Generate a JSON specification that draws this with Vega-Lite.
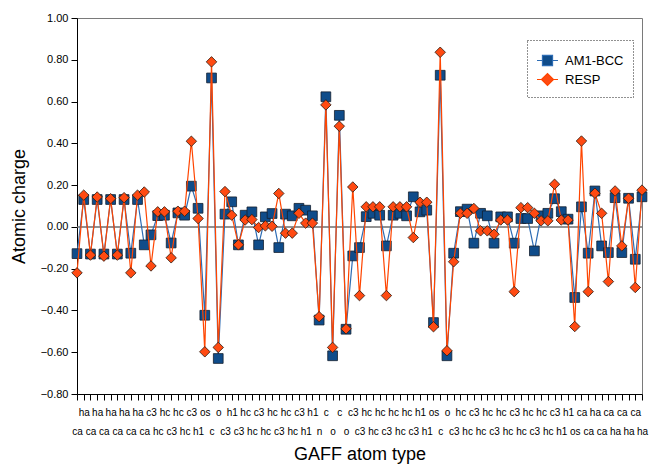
{
  "$schema": "https://vega.github.io/schema/vega-lite/v6.json",
  "width": 565,
  "height": 376,
  "autosize": "none",
  "padding": {"left": 77, "top": 18, "right": 8, "bottom": 71},
  "background": "white",
  "config": {
    "font": "Liberation Sans",
    "view": {"stroke": "#7a7a7a", "strokeWidth": 1},
    "legend": {"strokeDash": [1, 2], "strokeColor": "#222"}
  },
  "data": {
    "values": [
      {"site": "ca 1", "AM1-BCC": -0.128, "RESP": -0.220},
      {"site": "ha 2", "AM1-BCC": 0.131, "RESP": 0.152},
      {"site": "ca 3", "AM1-BCC": -0.130, "RESP": -0.135},
      {"site": "ha 4", "AM1-BCC": 0.131, "RESP": 0.143},
      {"site": "ca 5", "AM1-BCC": -0.130, "RESP": -0.140},
      {"site": "ha 6", "AM1-BCC": 0.131, "RESP": 0.135},
      {"site": "ca 7", "AM1-BCC": -0.130, "RESP": -0.135},
      {"site": "ha 8", "AM1-BCC": 0.131, "RESP": 0.140},
      {"site": "ca 9", "AM1-BCC": -0.126, "RESP": -0.220},
      {"site": "ha 10", "AM1-BCC": 0.131, "RESP": 0.152},
      {"site": "ca 11", "AM1-BCC": -0.086, "RESP": 0.167},
      {"site": "c3 12", "AM1-BCC": -0.038, "RESP": -0.187},
      {"site": "hc 13", "AM1-BCC": 0.054, "RESP": 0.072},
      {"site": "hc 14", "AM1-BCC": 0.056, "RESP": 0.072},
      {"site": "c3 15", "AM1-BCC": -0.077, "RESP": -0.148},
      {"site": "hc 16", "AM1-BCC": 0.067, "RESP": 0.075},
      {"site": "hc 17", "AM1-BCC": 0.056, "RESP": 0.075},
      {"site": "c3 18", "AM1-BCC": 0.195, "RESP": 0.410},
      {"site": "h1 19", "AM1-BCC": 0.089, "RESP": 0.040},
      {"site": "os 20", "AM1-BCC": -0.423, "RESP": -0.598},
      {"site": "c 21", "AM1-BCC": 0.713, "RESP": 0.790},
      {"site": "o 22", "AM1-BCC": -0.630, "RESP": -0.577},
      {"site": "c3 23", "AM1-BCC": 0.061, "RESP": 0.169},
      {"site": "h1 24", "AM1-BCC": 0.120, "RESP": 0.056},
      {"site": "c3 25", "AM1-BCC": -0.086, "RESP": -0.086},
      {"site": "hc 26", "AM1-BCC": 0.056, "RESP": 0.033},
      {"site": "hc 27", "AM1-BCC": 0.072, "RESP": 0.035},
      {"site": "c3 28", "AM1-BCC": -0.086, "RESP": -0.003},
      {"site": "hc 29", "AM1-BCC": 0.048, "RESP": 0.005},
      {"site": "hc 30", "AM1-BCC": 0.064, "RESP": 0.003},
      {"site": "c3 31", "AM1-BCC": -0.099, "RESP": 0.160},
      {"site": "hc 32", "AM1-BCC": 0.061, "RESP": -0.030},
      {"site": "hc 33", "AM1-BCC": 0.053, "RESP": -0.030},
      {"site": "c3 34", "AM1-BCC": 0.089, "RESP": 0.065},
      {"site": "h1 35", "AM1-BCC": 0.080, "RESP": 0.018},
      {"site": "h1 36", "AM1-BCC": 0.053, "RESP": 0.018},
      {"site": "n 37", "AM1-BCC": -0.446, "RESP": -0.430},
      {"site": "c 38", "AM1-BCC": 0.623, "RESP": 0.584},
      {"site": "o 39", "AM1-BCC": -0.617, "RESP": -0.577},
      {"site": "c 40", "AM1-BCC": 0.534, "RESP": 0.482},
      {"site": "o 41", "AM1-BCC": -0.490, "RESP": -0.488},
      {"site": "c3 42", "AM1-BCC": -0.139, "RESP": 0.191},
      {"site": "c3 43", "AM1-BCC": -0.099, "RESP": -0.329},
      {"site": "hc 44", "AM1-BCC": 0.049, "RESP": 0.096},
      {"site": "hc 45", "AM1-BCC": 0.065, "RESP": 0.096},
      {"site": "hc 46", "AM1-BCC": 0.056, "RESP": 0.096},
      {"site": "c3 47", "AM1-BCC": -0.091, "RESP": -0.329},
      {"site": "hc 48", "AM1-BCC": 0.056, "RESP": 0.096},
      {"site": "hc 49", "AM1-BCC": 0.065, "RESP": 0.096},
      {"site": "hc 50", "AM1-BCC": 0.053, "RESP": 0.096},
      {"site": "c3 51", "AM1-BCC": 0.144, "RESP": -0.051},
      {"site": "h1 52", "AM1-BCC": 0.072, "RESP": 0.118},
      {"site": "h1 53", "AM1-BCC": 0.080, "RESP": 0.118},
      {"site": "os 54", "AM1-BCC": -0.458, "RESP": -0.478},
      {"site": "c 55", "AM1-BCC": 0.726, "RESP": 0.836},
      {"site": "o 56", "AM1-BCC": -0.617, "RESP": -0.593},
      {"site": "c3 57", "AM1-BCC": -0.126, "RESP": -0.167},
      {"site": "hc 58", "AM1-BCC": 0.073, "RESP": 0.065},
      {"site": "hc 59", "AM1-BCC": 0.085, "RESP": 0.065},
      {"site": "c3 60", "AM1-BCC": -0.078, "RESP": 0.088},
      {"site": "hc 61", "AM1-BCC": 0.065, "RESP": -0.019},
      {"site": "hc 62", "AM1-BCC": 0.053, "RESP": -0.019},
      {"site": "c3 63", "AM1-BCC": -0.078, "RESP": -0.035},
      {"site": "hc 64", "AM1-BCC": 0.048, "RESP": 0.033},
      {"site": "hc 65", "AM1-BCC": 0.048, "RESP": 0.033},
      {"site": "c3 66", "AM1-BCC": -0.078, "RESP": -0.310},
      {"site": "hc 67", "AM1-BCC": 0.040, "RESP": 0.092},
      {"site": "hc 68", "AM1-BCC": 0.040, "RESP": 0.092},
      {"site": "c3 69", "AM1-BCC": -0.115, "RESP": 0.065},
      {"site": "hc 70", "AM1-BCC": 0.053, "RESP": 0.029},
      {"site": "hc 71", "AM1-BCC": 0.065, "RESP": 0.029},
      {"site": "c3 72", "AM1-BCC": 0.135, "RESP": 0.204},
      {"site": "h1 73", "AM1-BCC": 0.073, "RESP": 0.033},
      {"site": "h1 74", "AM1-BCC": 0.037, "RESP": 0.033},
      {"site": "os 75", "AM1-BCC": -0.338, "RESP": -0.477},
      {"site": "ca 76", "AM1-BCC": 0.096, "RESP": 0.411},
      {"site": "ca 77", "AM1-BCC": -0.126, "RESP": -0.310},
      {"site": "ha 78", "AM1-BCC": 0.172, "RESP": 0.161},
      {"site": "ca 79", "AM1-BCC": -0.091, "RESP": 0.065},
      {"site": "ca 80", "AM1-BCC": -0.123, "RESP": -0.262},
      {"site": "ha 81", "AM1-BCC": 0.140, "RESP": 0.172},
      {"site": "ca 82", "AM1-BCC": -0.123, "RESP": -0.091},
      {"site": "ha 83", "AM1-BCC": 0.137, "RESP": 0.137},
      {"site": "ca 84", "AM1-BCC": -0.155, "RESP": -0.290},
      {"site": "ha 85", "AM1-BCC": 0.144, "RESP": 0.176}
    ]
  },
  "layer": [
    {
      "data": {"values": [{"ref": 0}]},
      "mark": {"type": "rule", "color": "#6e6e6e", "strokeWidth": 1.5},
      "encoding": {"y": {"field": "ref", "type": "quantitative"}}
    },
    {
      "encoding": {
        "x": {
          "field": "site",
          "type": "ordinal",
          "sort": null,
          "scale": {"padding": 0},
          "title": "GAFF atom type",
          "axis": {
            "labelExpr": "(+split(datum.value, ' ')[1]) % 2 == 1 ? ['', split(datum.value, ' ')[0]] : split(datum.value, ' ')[0]",
            "labelAngle": 0,
            "labelFontSize": 10,
            "labelLineHeight": 19,
            "labelOverlap": false,
            "labelPadding": 7,
            "labelColor": "#000",
            "tickSize": 6,
            "tickColor": "#000",
            "domainColor": "#000",
            "titleFontSize": 18,
            "titleFontWeight": "normal",
            "titleColor": "#000",
            "titlePadding": 9
          }
        },
        "y": {
          "type": "quantitative",
          "scale": {"domain": [-0.8, 1.0], "nice": false, "zero": false},
          "title": "Atomic charge",
          "axis": {
            "values": [-0.8, -0.7, -0.6, -0.5, -0.4, -0.3, -0.2, -0.1, 0, 0.1, 0.2, 0.3, 0.4, 0.5, 0.6, 0.7, 0.8, 0.9, 1.0],
            "labelExpr": "abs(round(datum.value * 10)) % 2 == 1 ? '' : format(datum.value, '.2f')",
            "tickSize": {"condition": {"test": "abs(round(datum.value * 10)) % 2 == 1", "value": 3}, "value": 6},
            "grid": false,
            "labelFontSize": 11,
            "labelColor": "#000",
            "labelPadding": 3,
            "tickColor": "#000",
            "domainColor": "#000",
            "titleFontSize": 18,
            "titleFontWeight": "normal",
            "titleColor": "#000",
            "titlePadding": 12
          }
        }
      },
      "layer": [
        {
          "mark": {"type": "line", "color": "#2d6cb4", "strokeWidth": 1.2},
          "encoding": {"y": {"field": "AM1-BCC", "type": "quantitative"}}
        },
        {
          "mark": {"type": "point", "shape": "square", "filled": true, "size": 95, "color": "#0f4c8a", "stroke": "#14202e", "strokeWidth": 0.8, "opacity": 1},
          "encoding": {"y": {"field": "AM1-BCC", "type": "quantitative"}}
        },
        {
          "mark": {"type": "line", "color": "#ff4500", "strokeWidth": 1.2},
          "encoding": {"y": {"field": "RESP", "type": "quantitative"}}
        },
        {
          "mark": {"type": "point", "shape": "diamond", "filled": true, "size": 110, "color": "#ff4a12", "stroke": "#2a1a10", "strokeWidth": 0.8, "opacity": 1},
          "encoding": {"y": {"field": "RESP", "type": "quantitative"}}
        }
      ]
    },
    {
      "data": {"values": [{"series": "AM1-BCC"}, {"series": "RESP"}]},
      "mark": {"type": "point", "filled": true, "opacity": 0},
      "encoding": {
        "color": {
          "field": "series", "type": "nominal",
          "scale": {"domain": ["AM1-BCC", "RESP"], "range": ["#0f4c8a", "#ff4a12"]},
          "legend": {"title": null, "orient": "none", "legendX": 450, "legendY": 22, "padding": 9, "symbolSize": 441, "symbolStrokeWidth": 1.2, "symbolOpacity": 1, "labelFontSize": 13, "labelColor": "#000", "labelOffset": 6, "rowPadding": 0}
        },
        "stroke": {
          "field": "series", "type": "nominal",
          "scale": {"domain": ["AM1-BCC", "RESP"], "range": ["#2d6cb4", "#ff4500"]},
          "legend": {"title": null, "orient": "none", "legendX": 450, "legendY": 22, "padding": 9, "symbolSize": 441, "symbolStrokeWidth": 1.2, "symbolOpacity": 1, "labelFontSize": 13, "labelColor": "#000", "labelOffset": 6, "rowPadding": 0}
        },
        "shape": {
          "field": "series", "type": "nominal",
          "scale": {"domain": ["AM1-BCC", "RESP"], "range": ["M-1,0H-0.48M0.48,0H1M-0.48,-0.48H0.48V0.48H-0.48Z", "M-1,0H-0.57M0.57,0H1M-0.57,0L0,-0.57L0.57,0L0,0.57Z"]},
          "legend": {"title": null, "orient": "none", "legendX": 450, "legendY": 22, "padding": 9, "symbolSize": 441, "symbolStrokeWidth": 1.2, "symbolOpacity": 1, "labelFontSize": 13, "labelColor": "#000", "labelOffset": 6, "rowPadding": 0}
        }
      }
    }
  ]
}
